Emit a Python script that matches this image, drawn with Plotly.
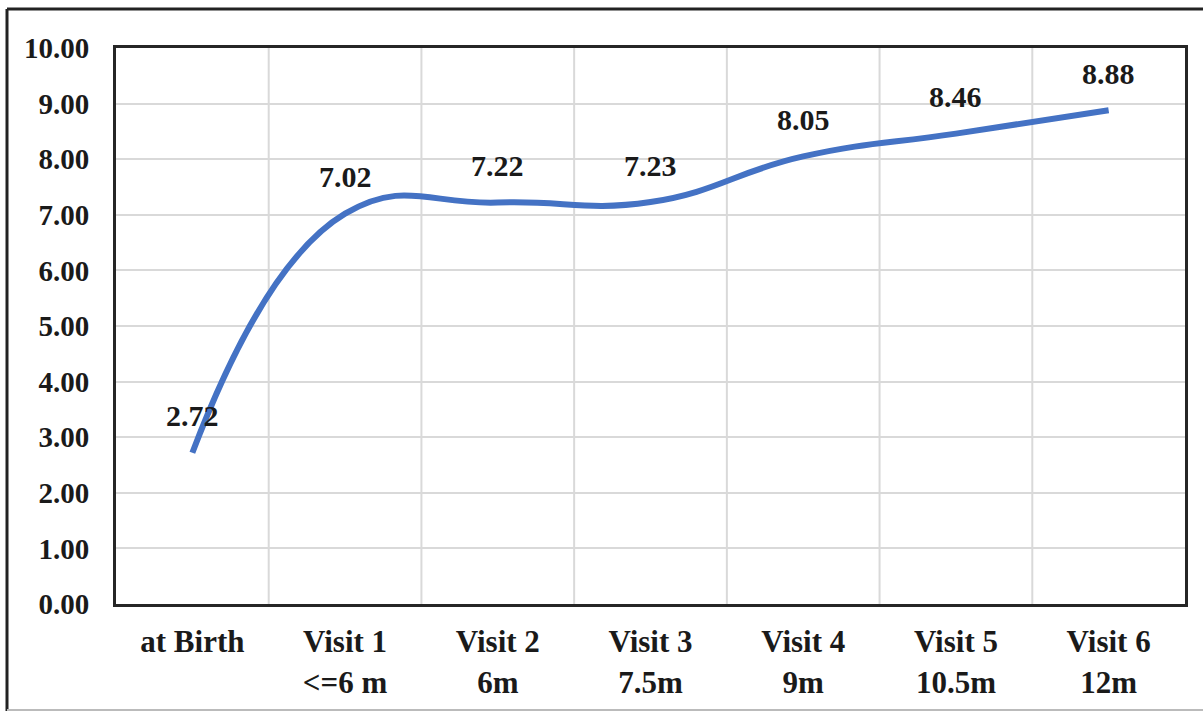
import plotly.graph_objects as go

categories = ["at Birth<br>", "Visit 1<br><=6 m", "Visit 2<br>6m", "Visit 3<br>7.5m",
              "Visit 4<br>9m", "Visit 5<br>10.5m", "Visit 6<br>12m"]
values = [2.72, 7.02, 7.22, 7.23, 8.05, 8.46, 8.88]
y_ticks = [0, 1, 2, 3, 4, 5, 6, 7, 8, 9, 10]

SERIF = "Liberation Serif, Times New Roman, serif"
W, H = 1203, 711
L, R, T, B = 116, 1185, 48, 604

fig = go.Figure()
fig.add_trace(go.Scatter(
    x=list(range(len(categories))), y=values, mode="lines",
    line=dict(color="#4472C4", width=6, shape="spline", smoothing=1.3),
    hoverinfo="skip", showlegend=False,
))

for i, v in enumerate(values):
    fig.add_annotation(x=i, y=v, text=f"{v:.2f}", showarrow=False, yshift=37,
                       font=dict(family=SERIF, size=30, color="#1a1a1a", weight="bold"))

n = len(categories)
fig.update_xaxes(
    range=[-0.5, n - 0.5], tickmode="array", tickvals=list(range(n)),
    ticktext=categories, showgrid=False, zeroline=False, automargin=False,
    showline=True, linecolor="#262626", linewidth=3, mirror=True,
    ticks="", tickfont=dict(family=SERIF, size=31, color="#1a1a1a", weight="bold"),
    ticklabelstandoff=8,
)
# vertical gridlines at category boundaries
for k in range(1, n):
    fig.add_shape(type="line", xref="x", yref="paper", x0=k - 0.5, x1=k - 0.5, y0=0, y1=1,
                  line=dict(color="#d9d9d9", width=2), layer="below")

fig.update_yaxes(
    range=[0, 10], tickmode="array", tickvals=y_ticks,
    ticktext=[f"{t:.2f}" for t in y_ticks],
    showgrid=True, gridcolor="#d9d9d9", gridwidth=2, zeroline=False, automargin=False,
    showline=True, linecolor="#262626", linewidth=3, mirror=True,
    ticks="", tickfont=dict(family=SERIF, size=29, color="#1a1a1a", weight="bold"),
    ticklabelstandoff=18,
)

pw, ph = R - L, B - T
def px(x): return (x - L) / pw
def py(y): return (B - y) / ph

# outer frame
fig.add_shape(type="line", xref="paper", yref="paper", x0=px(7), x1=px(7), y0=py(9), y1=py(711),
              line=dict(color="#222222", width=3))
fig.add_shape(type="line", xref="paper", yref="paper", x0=px(7), x1=px(1203), y0=py(9), y1=py(9),
              line=dict(color="#222222", width=3))
fig.add_shape(type="line", xref="paper", yref="paper", x0=px(7), x1=px(1203), y0=py(710), y1=py(710),
              line=dict(color="#bbbbbb", width=2))

fig.update_layout(
    width=W, height=H,
    margin=dict(l=L, r=W - R, t=T, b=H - B),
    paper_bgcolor="white", plot_bgcolor="white",
)

fig.write_html("out.html")
